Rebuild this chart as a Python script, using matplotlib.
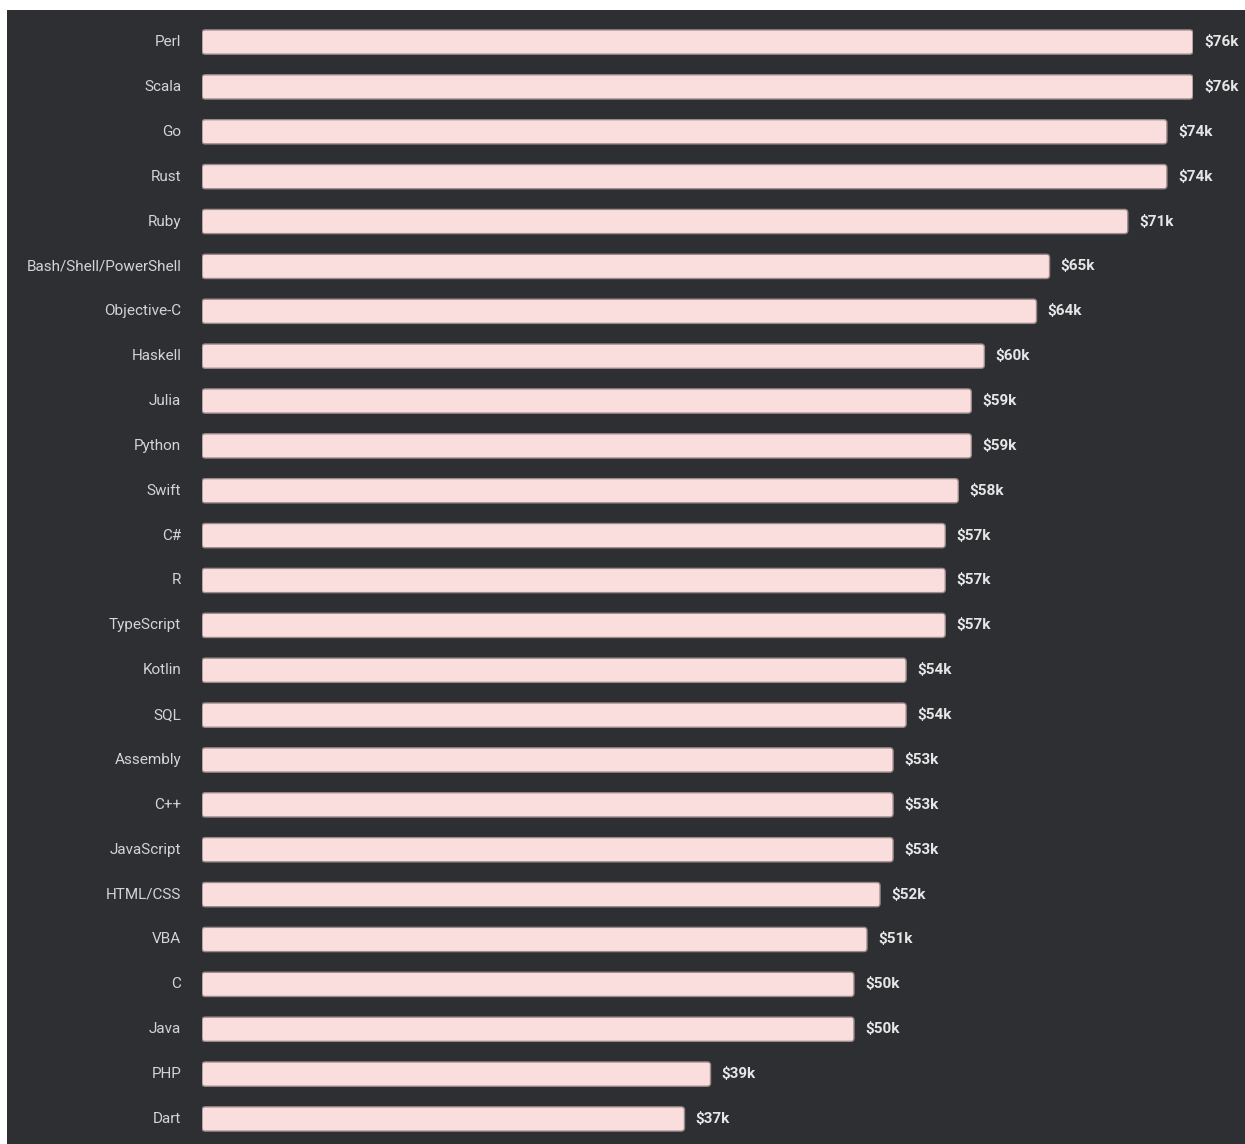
import matplotlib
matplotlib.use("Agg")
import matplotlib.pyplot as plt
from matplotlib.patches import FancyBboxPatch, Rectangle
import matplotlib.font_manager as fm

languages = [
    "Perl", "Scala", "Go", "Rust", "Ruby", "Bash/Shell/PowerShell",
    "Objective-C", "Haskell", "Julia", "Python", "Swift", "C#", "R",
    "TypeScript", "Kotlin", "SQL", "Assembly", "C++", "JavaScript",
    "HTML/CSS", "VBA", "C", "Java", "PHP", "Dart",
]
salaries_k = [
    76, 76, 74, 74, 71, 65, 64, 60, 59, 59, 58, 57, 57, 57,
    54, 54, 53, 53, 53, 52, 51, 50, 50, 39, 37,
]

BG = "#2d2f33"
BAR = "#fadede"
EDGE = "#9c8a8a"
TEXT = "#d4d4d4"

installed = {f.name for f in fm.fontManager.ttflist}
family = ["Liberation Sans Narrow"] if "Liberation Sans Narrow" in installed else ["Roboto"]

W, H = 1245, 1144
fig = plt.figure(figsize=(W / 100, H / 100), dpi=100)
fig.patch.set_facecolor("white")
# dark panel with a thin white margin top and left
fig.add_artist(Rectangle((7 / W, 0), 1 - 7 / W, 1 - 10 / H,
                         transform=fig.transFigure, facecolor=BG,
                         edgecolor="none", zorder=0))

ax = fig.add_axes([202 / W, 2.6 / H, 991 / W, 1121.8 / H])
ax.set_facecolor("none")
ax.set_xlim(0, 76)
ax.set_ylim(len(languages) - 0.5, -0.5)
ax.axis("off")

bars = ax.barh(range(len(languages)), salaries_k, height=0.54)
# swap the plain rectangles for rounded ones
for b in bars:
    x, y = b.get_x(), b.get_y()
    w, h = b.get_width(), b.get_height()
    b.set_visible(False)
    ax.add_patch(FancyBboxPatch(
        (x, y), w, h,
        boxstyle="round,pad=0,rounding_size=0.25",
        mutation_aspect=0.29,
        facecolor=BAR, edgecolor=EDGE, linewidth=1.0,
    ))

for i, (name, val) in enumerate(zip(languages, salaries_k)):
    ax.text(-1.6, i, name, ha="right", va="center", color=TEXT,
            fontsize=11, family=family, clip_on=False)
    ax.text(val + 0.85, i, f"${val}k", ha="left", va="center", color="#e6e6e6",
            fontsize=11, fontweight="bold", family=family, clip_on=False)

fig.savefig("out.png", dpi=100, facecolor=fig.get_facecolor())
